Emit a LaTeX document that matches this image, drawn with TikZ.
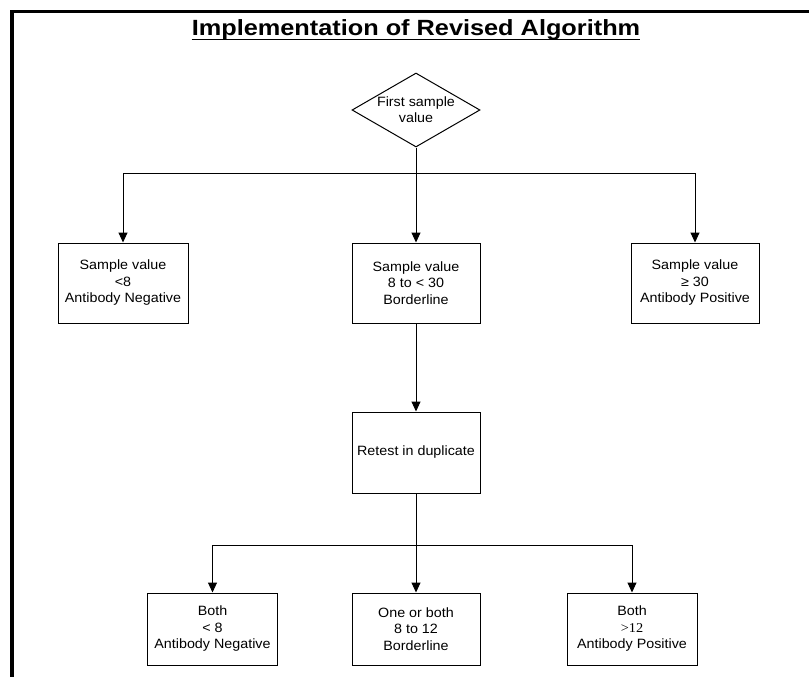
\documentclass[tikz,border=0pt]{standalone}
\usepackage{fontspec}
\setmainfont{Liberation Sans}[FakeStretch=1.06]
\newfontfamily\titlefont{Liberation Sans}[FakeStretch=1.15]
\newfontfamily\seriffont{Liberation Serif}[FakeStretch=1.06]
\usetikzlibrary{shapes.geometric,arrows.meta}
\begin{document}
\begin{tikzpicture}[x=1pt,y=-1pt,
  box/.style={draw,line width=1pt,align=center,inner sep=0pt,
    font=\fontsize{13.5}{16.5}\selectfont},
  wbox/.style={box,minimum width=130pt},
  nbox/.style={box,minimum width=128pt},
  arr/.style={-{Triangle[length=10pt,width=9pt]},line width=1pt},
  ln/.style={line width=1pt}]
\useasboundingbox (0,0) rectangle (809,677);
\fill[white] (0,0) rectangle (809,677);
\draw[line width=3.5pt] (812,11.7) -- (12,11.7) -- (12,680);

\node[font=\titlefont\bfseries\fontsize{22}{24}\selectfont,anchor=base,inner sep=0pt] (title) at (416,35.5) {Implementation of Revised Algorithm};
\draw[line width=1.5pt] ([yshift=-4pt]title.base west) -- ([yshift=-4pt]title.base east);

\node[draw,diamond,aspect=1.73,minimum width=128pt,minimum height=74pt,inner sep=0pt,
  line width=1pt,align=center,font=\fontsize{13.5}{16}\selectfont] (d) at (416,110) {First sample\\value};

\node[wbox,minimum height=80pt] (b1) at (123,283) {Sample value\\<8\\Antibody Negative};
\node[nbox,minimum height=80pt] (b2) at (416,283) {Sample value\\8 to < 30\\Borderline};
\node[nbox,minimum height=80pt] (b3) at (695,283) {Sample value\\≥ 30\\Antibody Positive};

\node[nbox,minimum height=81pt] (r) at (416,452.5) {Retest in duplicate};

\node[wbox,minimum height=72pt] (c1) at (212.5,629) {Both\\< 8\\Antibody Negative};
\node[nbox,minimum height=72pt] (c2) at (416,629) {One or both\\8 to 12\\Borderline};
\node[wbox,minimum height=72pt] (c3) at (632,629) {Both\\{\seriffont >12}\\Antibody Positive};

\coordinate (j1) at (416,173);
\draw[ln] (d.south) -- (j1);
\draw[ln] (b1.north |- j1) -- (b3.north |- j1);
\draw[arr] (b1.north |- j1) -- (b1.north);
\draw[arr] (j1) -- (b2.north);
\draw[arr] (b3.north |- j1) -- (b3.north);

\draw[arr] (b2.south) -- (r.north);

\coordinate (j2) at (416,545);
\draw[ln] (r.south) -- (j2);
\draw[ln] (c1.north |- j2) -- (c3.north |- j2);
\draw[arr] (c1.north |- j2) -- (c1.north);
\draw[arr] (j2) -- (c2.north);
\draw[arr] (c3.north |- j2) -- (c3.north);
\end{tikzpicture}
\end{document}
